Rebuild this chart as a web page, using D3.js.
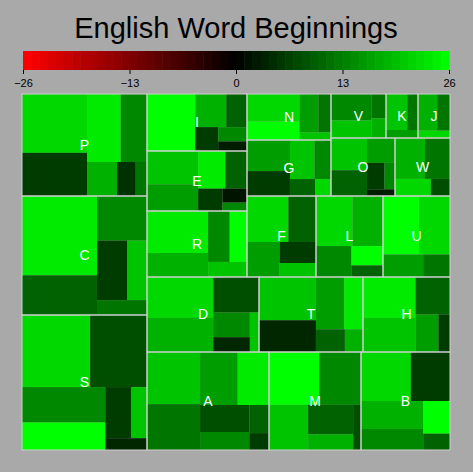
<!DOCTYPE html>
<html><head><meta charset="utf-8">
<script src="https://cdn.jsdelivr.net/npm/d3@7"></script>
<style>body{margin:0;background:#a9a9a9}</style></head>
<body><svg id="c" width="473" height="472"></svg>
<script>
const letters = ["P","C","S","I","E","R","D","A","N","V","K","J","G","O","W","F","L","U","T","H","M","B"];
const sizes   = [12750,14875,16875,5700,6000,6600,8400,11956,3864,2420,1408,1408,4704,3712,3190,5589,5427,5427,7800,6525,9016,8722];
const subSizes = [
 [30,22,18,14,8,5,3],[40,20,15,12,8,5],[30,25,18,14,8,5,3],[40,15,10,8,6,4],[25,20,15,12,8,5,3],
 [35,20,15,12,8],[30,25,18,10,6,4],[25,22,18,15,12,8,5,3],[30,20,15,10,5],[30,20,10,8],[30,15,10],
 [30,20,10],[25,20,18,12,8,5],[25,20,15,10,6,4],[30,25,15,8],[30,20,18,12,8],[30,25,18,10,6],
 [35,30,15,10],[30,22,18,12,8,5],[30,25,18,12,6],[30,25,20,15,8,4],[28,22,20,15,10,5]];
const subValues = [
 [22,6,24,14,18,5,12],[24,10,14,6,20,12],[22,8,14,26,6,20,4],[26,18,10,6,14,3],[20,16,24,10,6,2,14],
 [24,18,14,26,20],[22,18,8,14,4,20],[20,12,16,24,8,14,10,6],[22,26,16,12,20],[14,20,12,18],[20,12,16],
 [18,12,22],[16,6,20,14,10,22],[20,10,16,6,14,3],[18,12,22,8],[22,10,16,6,20],[22,18,14,26,10],
 [26,22,16,12],[20,4,16,24,10,18],[24,20,10,16,6],[26,14,20,10,18,8],[22,6,18,14,26,10]];
const legendTicks = [-26,-13,0,13,26];
// grouping of letters: x = side by side, y = stacked
const groups = ["x",["y","P","C","S"],["y",["x",["y","I","E","R"],["y",["x",["y","N","G"],["y",["x","V","K","J"],["x","O","W"]]],["x","F","L","U"]]],["y",["x","D","T","H"],["x","A","M","B"]]]];

const svg = d3.select("#c");
const color = d3.scaleLinear().domain([-26,0,26]).range(["#ff0000","#000000","#00ff00"]);
svg.append("text").attr("x",236).attr("y",38).attr("text-anchor","middle")
  .attr("font-family","Liberation Sans, Arial").attr("font-size",29).text("English Word Beginnings");

const lx = d3.scaleLinear().domain([-26,26]).range([23,449]);
const steps = d3.range(-26,26,1);
svg.selectAll(".lg").data(steps).join("rect")
  .attr("x",d=>lx(d)).attr("y",51).attr("width",d=>lx(d+1)-lx(d)+0.5).attr("height",19)
  .attr("fill",d=>color(d+0.5));
const ax = svg.append("g").attr("transform","translate(0,70)")
  .call(d3.axisBottom(lx).tickValues(legendTicks).tickSize(4).tickFormat(d3.format("d")));
ax.select(".domain").remove();
ax.selectAll("text").attr("font-family","Liberation Sans, Arial").attr("font-size",11).attr("fill","#000").attr("dy","0.9em");

function build(spec){
  if (typeof spec === "string"){
    const i = letters.indexOf(spec);
    const tot = d3.sum(subSizes[i]);
    return {name:spec, letter:true, children: subSizes[i].map((s,j)=>({size:s*sizes[i]/tot, v:subValues[i][j]}))};
  }
  return {dir:spec[0], children: spec.slice(1).map(build)};
}
const root = d3.hierarchy(build(groups)).sum(d=>d.size||0);
const tile = (node,x0,y0,x1,y1)=>{
  if (node.data.dir==="x") d3.treemapDice(node,x0,y0,x1,y1);
  else if (node.data.dir==="y") d3.treemapSlice(node,x0,y0,x1,y1);
  else d3.treemapSquarify(node,x0,y0,x1,y1);
};
d3.treemap().size([428,356]).tile(tile)(root);
const g = svg.append("g").attr("transform","translate(22,94)");
g.selectAll(".leaf").data(root.leaves()).join("rect")
  .attr("x",d=>d.x0).attr("y",d=>d.y0).attr("width",d=>d.x1-d.x0).attr("height",d=>d.y1-d.y0)
  .attr("fill",d=>color(d.data.v));
const tops = root.descendants().filter(d=>d.data.letter);
g.selectAll(".top").data(tops).join("rect")
  .attr("x",d=>d.x0).attr("y",d=>d.y0).attr("width",d=>d.x1-d.x0).attr("height",d=>d.y1-d.y0)
  .attr("fill","none").attr("stroke","#d0d0d0").attr("stroke-width",1);
g.selectAll(".lbl").data(tops).join("text")
  .attr("x",d=>(d.x0+d.x1)/2).attr("y",d=>(d.y0+d.y1)/2).attr("dy","0.35em").attr("text-anchor","middle")
  .attr("fill","#fff").attr("font-family","Liberation Sans, Arial").attr("font-size",14).text(d=>d.data.name);
</script></body></html>
